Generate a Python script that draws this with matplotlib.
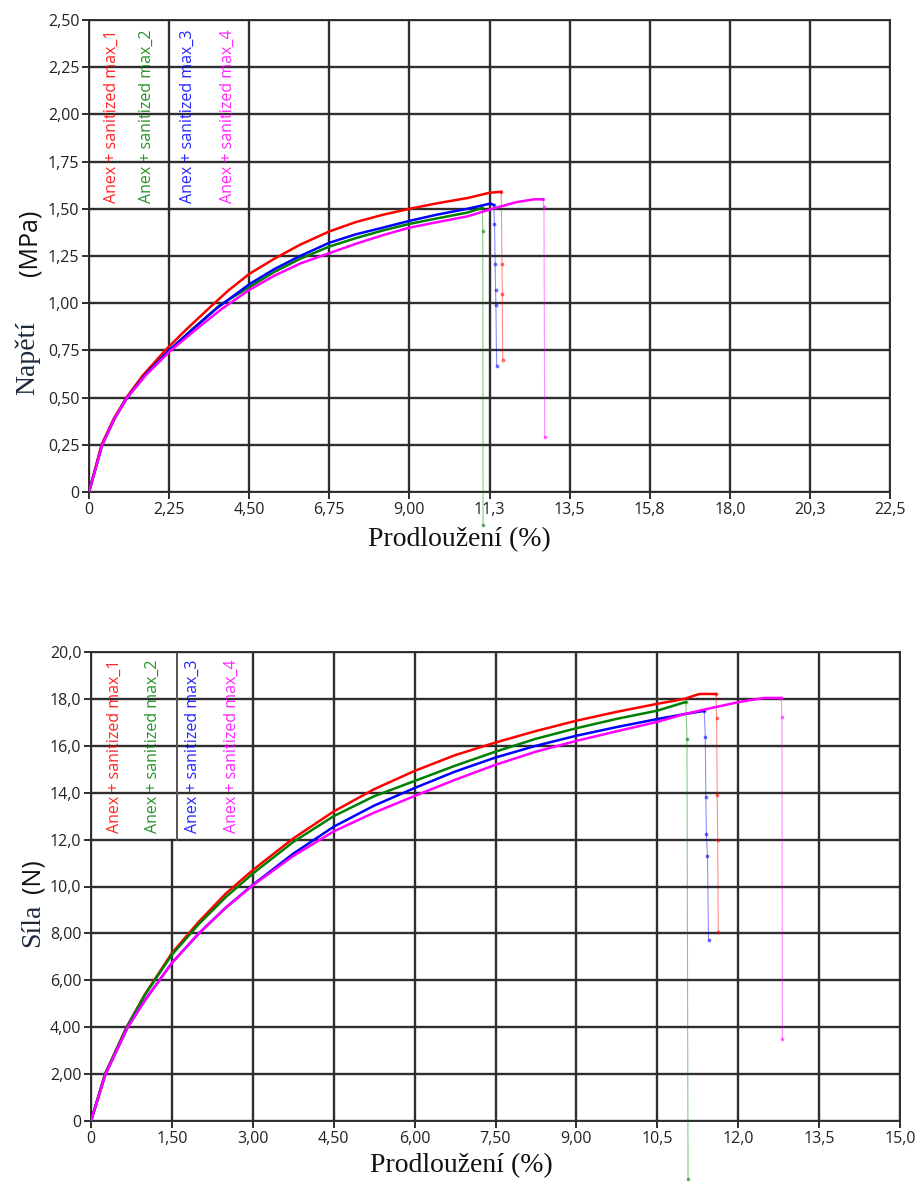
import numpy as np
import matplotlib
matplotlib.use("Agg")
import matplotlib.pyplot as plt

# --- data ---
names = ["Anex + sanitized max_1", "Anex + sanitized max_2",
         "Anex + sanitized max_3", "Anex + sanitized max_4"]
colors = ["#ff0000", "#008000", "#0000ff", "#ff00ff"]

# napeti (MPa) vs prodlouzeni (%)
s_x1 = [0, 0.35, 0.7, 1.05, 1.5, 2.14, 2.7, 3.35, 3.9, 4.5, 5.2, 5.93, 6.75, 7.5, 8.25, 9.0, 9.8, 10.63, 11.25, 11.58]
s_y1 = [0, 0.25, 0.39, 0.50, 0.615, 0.75, 0.855, 0.97, 1.065, 1.155, 1.235, 1.31, 1.38, 1.43, 1.468, 1.50, 1.53, 1.557, 1.585, 1.59]
s_x2 = [0, 0.37, 0.72, 1.07, 1.6, 2.25, 2.95, 3.68, 4.5, 5.2, 5.93, 6.75, 7.5, 8.25, 9.0, 9.8, 10.63, 11.05]
s_y2 = [0, 0.25, 0.39, 0.50, 0.625, 0.75, 0.87, 0.99, 1.085, 1.165, 1.235, 1.30, 1.345, 1.385, 1.42, 1.45, 1.48, 1.505]
s_x3 = [0, 0.37, 0.72, 1.07, 1.6, 2.25, 2.9, 3.6, 4.5, 5.2, 5.93, 6.75, 7.5, 8.25, 9.0, 9.8, 10.63, 11.28, 11.37]
s_y3 = [0, 0.25, 0.39, 0.50, 0.625, 0.75, 0.86, 0.975, 1.10, 1.18, 1.25, 1.32, 1.365, 1.40, 1.436, 1.47, 1.50, 1.528, 1.52]
s_x4 = [0, 0.37, 0.72, 1.07, 1.6, 2.3, 3.0, 3.73, 4.5, 5.2, 5.93, 6.75, 7.5, 8.25, 9.0, 9.8, 10.63, 11.33, 12.0, 12.5, 12.75]
s_y4 = [0, 0.25, 0.39, 0.50, 0.62, 0.75, 0.86, 0.97, 1.07, 1.145, 1.21, 1.265, 1.315, 1.36, 1.40, 1.43, 1.46, 1.50, 1.535, 1.55, 1.55]
# break (drop) segments
s_dx1 = [11.58, 11.6, 11.61, 11.62]
s_dy1 = [1.59, 1.21, 1.05, 0.70]
s_dx2 = [11.05, 11.06, 11.07]
s_dy2 = [1.505, 1.38, -0.175]
s_dx3 = [11.37, 11.39, 11.41, 11.42, 11.43, 11.45]
s_dy3 = [1.52, 1.42, 1.21, 1.07, 0.99, 0.67]
s_dx4 = [12.75, 12.78, 12.8]
s_dy4 = [1.55, 1.51, 0.29]

# sila (N) vs prodlouzeni (%)
f_x1 = [0, 0.26, 0.66, 1.0, 1.5, 2.0, 2.5, 3.0, 3.75, 4.5, 5.25, 6.0, 6.75, 7.5, 8.25, 9.0, 9.75, 10.5, 11.0, 11.28, 11.59]
f_y1 = [0, 2.0, 4.0, 5.4, 7.16, 8.5, 9.7, 10.7, 12.05, 13.2, 14.15, 14.93, 15.6, 16.14, 16.63, 17.07, 17.45, 17.79, 18.0, 18.21, 18.21]
f_x2 = [0, 0.26, 0.66, 1.0, 1.5, 2.0, 2.5, 3.0, 3.75, 4.5, 5.25, 6.0, 6.75, 7.5, 8.25, 9.0, 9.75, 10.5, 11.03]
f_y2 = [0, 2.0, 4.0, 5.38, 7.09, 8.4, 9.55, 10.55, 11.9, 13.0, 13.85, 14.5, 15.15, 15.75, 16.3, 16.75, 17.15, 17.5, 17.87]
f_x3 = [0, 0.27, 0.68, 1.0, 1.5, 2.0, 2.5, 3.0, 3.75, 4.5, 5.25, 6.0, 6.75, 7.5, 8.25, 9.0, 9.75, 10.5, 11.0, 11.37]
f_y3 = [0, 2.0, 4.0, 5.15, 6.74, 8.0, 9.1, 10.07, 11.4, 12.55, 13.45, 14.2, 14.9, 15.5, 16.0, 16.43, 16.8, 17.14, 17.35, 17.49]
f_x4 = [0, 0.27, 0.68, 1.0, 1.5, 2.0, 2.5, 3.0, 3.75, 4.5, 5.25, 6.0, 6.75, 7.5, 8.25, 9.0, 9.75, 10.5, 11.0, 11.52, 12.02, 12.48, 12.8]
f_y4 = [0, 2.0, 4.0, 5.15, 6.74, 8.0, 9.1, 10.05, 11.3, 12.35, 13.15, 13.86, 14.55, 15.19, 15.75, 16.21, 16.62, 17.02, 17.35, 17.62, 17.87, 18.04, 18.04]
f_dx1 = [11.59, 11.6, 11.61, 11.62, 11.63]
f_dy1 = [18.21, 17.2, 13.9, 12.0, 8.04]
f_dx2 = [11.03, 11.05, 11.07]
f_dy2 = [17.87, 16.3, -2.47]
f_dx3 = [11.37, 11.39, 11.4, 11.41, 11.43, 11.45]
f_dy3 = [17.49, 16.38, 13.83, 12.26, 11.32, 7.71]
f_dx4 = [12.8, 12.81, 12.82]
f_dy4 = [18.04, 17.23, 3.49]

s_xticks = ["0", "2,25", "4,50", "6,75", "9,00", "11,3", "13,5", "15,8", "18,0", "20,3", "22,5"]
s_yticks = ["0", "0,25", "0,50", "0,75", "1,00", "1,25", "1,50", "1,75", "2,00", "2,25", "2,50"]
f_xticks = ["0", "1,50", "3,00", "4,50", "6,00", "7,50", "9,00", "10,5", "12,0", "13,5", "15,0"]
f_yticks = ["0", "2,00", "4,00", "6,00", "8,00", "10,0", "12,0", "14,0", "16,0", "18,0", "20,0"]

W, H = 924, 1182
fig = plt.figure(figsize=(W / 100, H / 100), dpi=100)
fig.patch.set_facecolor("white")

def box(l, t, r, b):
    return [l / W, 1 - b / H, (r - l) / W, (b - t) / H]

def px(x, y):
    return x / W, 1 - y / H

GRID = "#2e2e2e"

def style(ax, xmax, ymax, xl, yl):
    ax.set_xlim(0, xmax)
    ax.set_ylim(0, ymax)
    ax.set_xticks(np.linspace(0, xmax, 11))
    ax.set_xticklabels(xl)
    ax.set_yticks(np.linspace(0, ymax, 11))
    ax.set_yticklabels(yl)
    ax.grid(True, color=GRID, lw=1.7)
    ax.set_axisbelow(True)
    for sp in ax.spines.values():
        sp.set_color(GRID)
        sp.set_linewidth(1.4)
    ax.tick_params(direction="out", length=5, width=1.4, color=GRID,
                   labelsize=11.5, labelcolor="#222222", pad=2)
    for lab in ax.get_xticklabels() + ax.get_yticklabels():
        lab.set_family("Open Sans")

def curves(ax, xs, ys, dxs, dys):
    for dx, dy, c in zip(dxs, dys, colors):
        ax.plot(dx, dy, color=c, lw=0.8, alpha=0.45, marker="o", ms=1.8,
                clip_on=False, zorder=3)
    for x, y, c in zip(xs, ys, colors):
        ax.plot(x, y, color=c, lw=1.8, zorder=4)

# top chart: stress
ax1 = fig.add_axes(box(89, 20, 890, 492))
style(ax1, 22.5, 2.5, s_xticks, s_yticks)
curves(ax1, [s_x1, s_x2, s_x3, s_x4], [s_y1, s_y2, s_y3, s_y4],
       [s_dx1, s_dx2, s_dx3, s_dx4], [s_dy1, s_dy2, s_dy3, s_dy4])
for xpos, name, c in zip([0.65, 1.63, 2.78, 3.91], names, colors):
    ax1.text(xpos, 1.53, name, rotation=90, rotation_mode="anchor",
             ha="left", va="center", color=c, fontsize=11.5,
             family="Open Sans", alpha=0.85, zorder=5)

# bottom chart: force
ax2 = fig.add_axes(box(91, 652, 900, 1121))
style(ax2, 15.0, 20.0, f_xticks, f_yticks)
# legend block: the 1,50 gridline stops at 12,0 and the block edge sits beside it
ax2.get_xgridlines()[1].set_visible(False)
ax2.plot([1.5, 1.5], [0, 12.0], color=GRID, lw=1.7, zorder=0.5)
ax2.plot([1.59, 1.59], [12.0, 20.0], color="#555555", lw=1.4, zorder=0.6)
curves(ax2, [f_x1, f_x2, f_x3, f_x4], [f_y1, f_y2, f_y3, f_y4],
       [f_dx1, f_dx2, f_dx3, f_dx4], [f_dy1, f_dy2, f_dy3, f_dy4])
for xpos, name, c in zip([0.44, 1.15, 1.89, 2.61], names, colors):
    ax2.text(xpos, 12.3, name, rotation=90, rotation_mode="anchor",
             ha="left", va="center", color=c, fontsize=11.5,
             family="Open Sans", alpha=0.85, zorder=5)

# axis titles
serif = "Liberation Serif"
fig.text(*px(459, 540), "Prodloužení (%)", ha="center", va="center",
         fontsize=20, family=serif, color="#111111")
fig.text(*px(461, 1166), "Prodloužení (%)", ha="center", va="center",
         fontsize=20, family=serif, color="#111111")
fig.text(*px(27, 358), "Napětí", rotation=90, ha="center", va="center",
         fontsize=20, family=serif, color="#1c2a3c")
fig.text(*px(30, 243), "(MPa)", rotation=90, ha="center", va="center",
         fontsize=18, family="Open Sans", color="#111111")
fig.text(*px(33, 925), "Síla", rotation=90, ha="center", va="center",
         fontsize=20, family=serif, color="#1c2a3c")
fig.text(*px(33, 876), "(N)", rotation=90, ha="center", va="center",
         fontsize=18, family="Open Sans", color="#111111")

fig.savefig("out.png", dpi=100)
